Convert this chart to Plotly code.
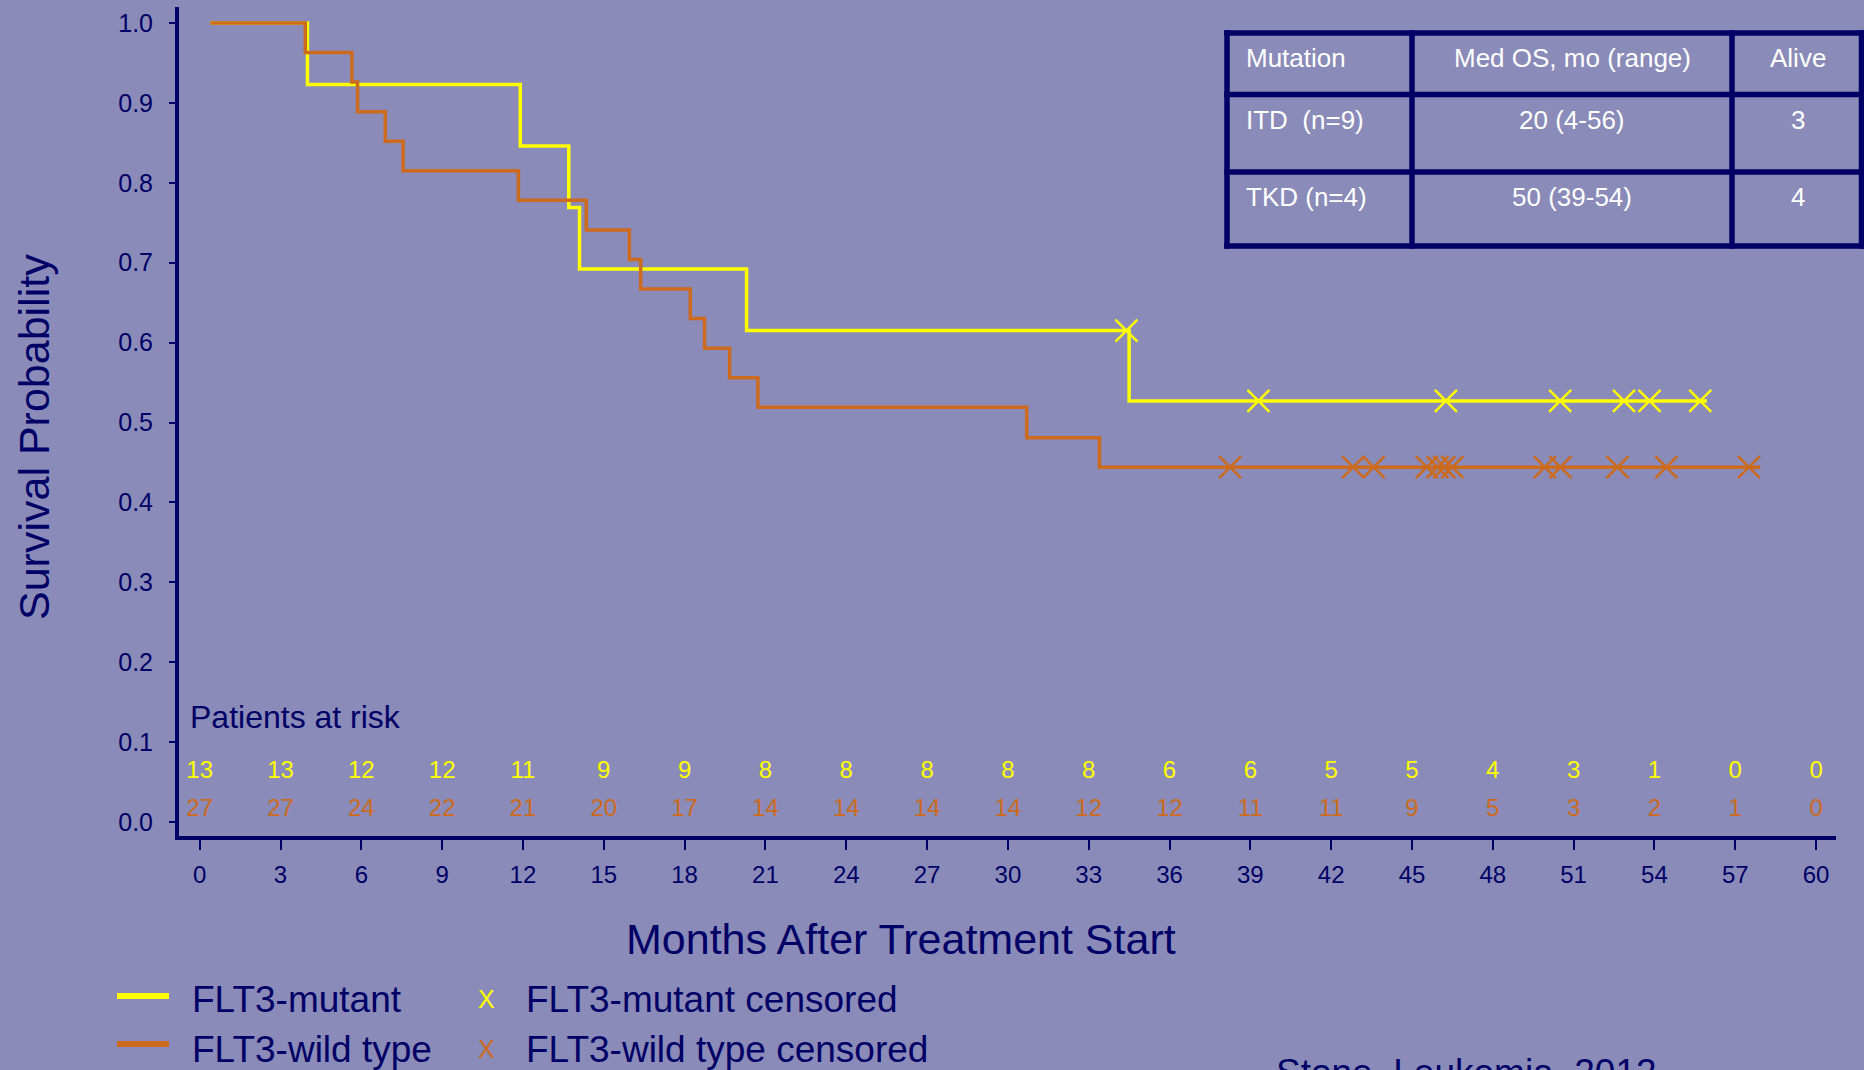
import plotly.graph_objects as go

# ---- Kaplan-Meier curves (months, survival probability) ----
mutant_times = [0.4, 4.0, 11.9, 13.7, 14.1, 20.3, 34.5, 55.95]
mutant_surv = [1.0, 0.923, 0.846, 0.769, 0.692, 0.615, 0.527, 0.527]
mutant_cens_times = [34.4, 39.3, 46.26, 50.5, 52.87, 53.82, 55.7]
mutant_cens_surv = [0.615, 0.527, 0.527, 0.527, 0.527, 0.527, 0.527]

wild_times = [0.4, 3.92, 5.65, 5.86, 6.89, 7.55, 11.83, 14.35, 15.95, 16.37,
              18.21, 18.74, 19.67, 20.72, 30.70, 33.40, 57.93]
wild_surv = [1.0, 0.963, 0.926, 0.889, 0.852, 0.815, 0.778, 0.741, 0.704, 0.667,
             0.630, 0.593, 0.556, 0.519, 0.481, 0.444, 0.444]
wild_cens_times = [38.25, 42.82, 43.58, 45.55, 45.95, 46.2, 46.5, 49.93, 50.51,
                   52.63, 54.44, 57.51]
wild_cens_surv = [0.444, 0.444, 0.444, 0.444, 0.444, 0.444, 0.444, 0.444, 0.444,
                  0.444, 0.444, 0.444]

# ---- Patients at risk ----
risk_months = [0, 3, 6, 9, 12, 15, 18, 21, 24, 27, 30, 33, 36, 39, 42, 45, 48, 51, 54, 57, 60]
mutant_at_risk = [13, 13, 12, 12, 11, 9, 9, 8, 8, 8, 8, 8, 6, 6, 5, 5, 4, 3, 1, 0, 0]
wild_at_risk = [27, 27, 24, 22, 21, 20, 17, 14, 14, 14, 14, 12, 12, 11, 11, 9, 5, 3, 2, 1, 0]

# ---- Axis ticks ----
x_ticks = [0, 3, 6, 9, 12, 15, 18, 21, 24, 27, 30, 33, 36, 39, 42, 45, 48, 51, 54, 57, 60]
y_ticks = [0.0, 0.1, 0.2, 0.3, 0.4, 0.5, 0.6, 0.7, 0.8, 0.9, 1.0]
y_tick_labels = ["0.0", "0.1", "0.2", "0.3", "0.4", "0.5", "0.6", "0.7", "0.8", "0.9", "1.0"]

# ---- Summary table ----
table_header = ["Mutation", "Med OS, mo (range)", "Alive"]
table_rows = [["ITD\u00a0 (n=9)", "20 (4-56)", "3"],
              ["TKD (n=4)", "50 (39-54)", "4"]]

# ---- Styling ----
BG = "#8a8bb8"
NAVY = "#000066"
YELLOW = "#ffff00"
ORANGE = "#cc6a1e"
FONT = "Liberation Sans, Arial, sans-serif"

W, H = 1864, 1070
M_L, M_R, M_T, M_B = 179, 28, 7, 234
PW = W - M_L - M_R
PH = H - M_T - M_B


def px(x):
    """Pixel column -> paper x."""
    return (x - M_L) / PW


def py(y):
    """Pixel row -> paper y."""
    return (H - M_B - y) / PH


fig = go.Figure()

# survival step curves
fig.add_trace(go.Scatter(x=mutant_times, y=mutant_surv, mode="lines",
                         line=dict(color=YELLOW, width=3.5, shape="hv"),
                         name="FLT3-mutant", hoverinfo="skip"))
fig.add_trace(go.Scatter(x=wild_times, y=wild_surv, mode="lines",
                         line=dict(color=ORANGE, width=3.5, shape="hv"),
                         name="FLT3-wild type", hoverinfo="skip"))

# censor marks
fig.add_trace(go.Scatter(x=mutant_cens_times, y=mutant_cens_surv, mode="markers",
                         marker=dict(symbol="x-thin", size=22,
                                     line=dict(color=YELLOW, width=2.5)),
                         name="FLT3-mutant censored"))
fig.add_trace(go.Scatter(x=wild_cens_times, y=wild_cens_surv, mode="markers",
                         marker=dict(symbol="x-thin", size=22,
                                     line=dict(color=ORANGE, width=2.5)),
                         name="FLT3-wild type censored"))

# numbers at risk, drawn inside the plot area
RISK_Y_MUT = 0.063
RISK_Y_WT = 0.0145
fig.add_trace(go.Scatter(x=risk_months, y=[RISK_Y_MUT] * len(risk_months), mode="text",
                         text=[str(v) for v in mutant_at_risk],
                         textfont=dict(family=FONT, size=24, color=YELLOW),
                         hoverinfo="skip"))
fig.add_trace(go.Scatter(x=risk_months, y=[RISK_Y_WT] * len(risk_months), mode="text",
                         text=[str(v) for v in wild_at_risk],
                         textfont=dict(family=FONT, size=24, color=ORANGE),
                         hoverinfo="skip"))

annotations = []
shapes = []

annotations.append(dict(x=-0.45, y=0.131, xref="x", yref="y", xanchor="left",
                        yanchor="middle", text="Patients at risk", showarrow=False,
                        font=dict(family=FONT, size=32, color=NAVY)))

# axis titles
annotations.append(dict(x=px(901), y=py(939), xref="paper", yref="paper",
                        text="Months After Treatment Start", showarrow=False,
                        xanchor="center", yanchor="middle",
                        font=dict(family=FONT, size=43, color=NAVY)))
annotations.append(dict(x=px(34), y=py(437), xref="paper", yref="paper",
                        text="Survival Probability", showarrow=False, textangle=-90,
                        xanchor="center", yanchor="middle",
                        font=dict(family=FONT, size=43, color=NAVY)))

# legend (two columns)
legend_rows = [(996, 999, YELLOW, "FLT3-mutant", "FLT3-mutant censored"),
               (1044, 1049, ORANGE, "FLT3-wild type", "FLT3-wild type censored")]
for line_y, text_y, col, lbl, cens_lbl in legend_rows:
    shapes.append(dict(type="line", xref="paper", yref="paper",
                       x0=px(117), x1=px(169), y0=py(line_y), y1=py(line_y),
                       line=dict(color=col, width=6)))
    annotations.append(dict(x=px(190), y=py(text_y), xref="paper", yref="paper",
                            text=lbl, showarrow=False, xanchor="left", yanchor="middle",
                            font=dict(family=FONT, size=37, color=NAVY)))
    annotations.append(dict(x=px(486), y=py(text_y), xref="paper", yref="paper",
                            text="X", showarrow=False, xanchor="center", yanchor="middle",
                            font=dict(family=FONT, size=25, color=col)))
    annotations.append(dict(x=px(524), y=py(text_y), xref="paper", yref="paper",
                            text=cens_lbl, showarrow=False, xanchor="left", yanchor="middle",
                            font=dict(family=FONT, size=37, color=NAVY)))

# source line
annotations.append(dict(x=px(1274), y=py(1072), xref="paper", yref="paper",
                        text="Stone, Leukemia, 2012", showarrow=False,
                        xanchor="left", yanchor="middle",
                        font=dict(family=FONT, size=37, color=NAVY)))

# summary table grid
col_edges = [1227, 1412, 1732, 1861.5]
row_edges = [33, 94.5, 172, 246]
TW = 5.5
for cx in col_edges:
    shapes.append(dict(type="line", xref="paper", yref="paper",
                       x0=px(cx), x1=px(cx), y0=py(row_edges[0] - TW / 2),
                       y1=py(row_edges[-1] + TW / 2),
                       line=dict(color=NAVY, width=TW)))
for ry in row_edges:
    shapes.append(dict(type="line", xref="paper", yref="paper",
                       x0=px(col_edges[0] - TW / 2), x1=px(col_edges[-1] + TW / 2),
                       y0=py(ry), y1=py(ry),
                       line=dict(color=NAVY, width=TW)))

text_cols = [(1244, "left"), (1572, "center"), (1798, "center")]
text_rows_y = [58, 120, 197]
all_rows = [table_header] + table_rows
for r, row in enumerate(all_rows):
    for c, cell in enumerate(row):
        annotations.append(dict(x=px(text_cols[c][0]), y=py(text_rows_y[r]),
                                xref="paper", yref="paper", text=cell, showarrow=False,
                                xanchor=text_cols[c][1], yanchor="middle",
                                font=dict(family=FONT, size=26, color="#ffffff")))

fig.update_layout(
    width=W, height=H,
    margin=dict(l=M_L, r=M_R, t=M_T, b=M_B, pad=0),
    paper_bgcolor=BG, plot_bgcolor=BG,
    showlegend=False,
    font=dict(family=FONT, color=NAVY),
    annotations=annotations,
    shapes=shapes,
)
fig.update_xaxes(range=[-0.768, 60.74], tickvals=x_ticks, ticks="outside",
                 ticklen=10, tickwidth=2, tickcolor=NAVY,
                 showline=True, linewidth=4, linecolor=NAVY,
                 showgrid=False, zeroline=False, ticklabelstandoff=4,
                 tickfont=dict(family=FONT, size=24, color=NAVY))
fig.update_yaxes(range=[-0.0175, 1.020], tickvals=y_ticks, ticktext=y_tick_labels,
                 ticks="outside", ticklen=6, tickwidth=2, tickcolor=NAVY,
                 showline=True, linewidth=4, linecolor=NAVY,
                 showgrid=False, zeroline=False, ticklabelstandoff=11,
                 tickfont=dict(family=FONT, size=25, color=NAVY))

fig.write_html("out.html")
